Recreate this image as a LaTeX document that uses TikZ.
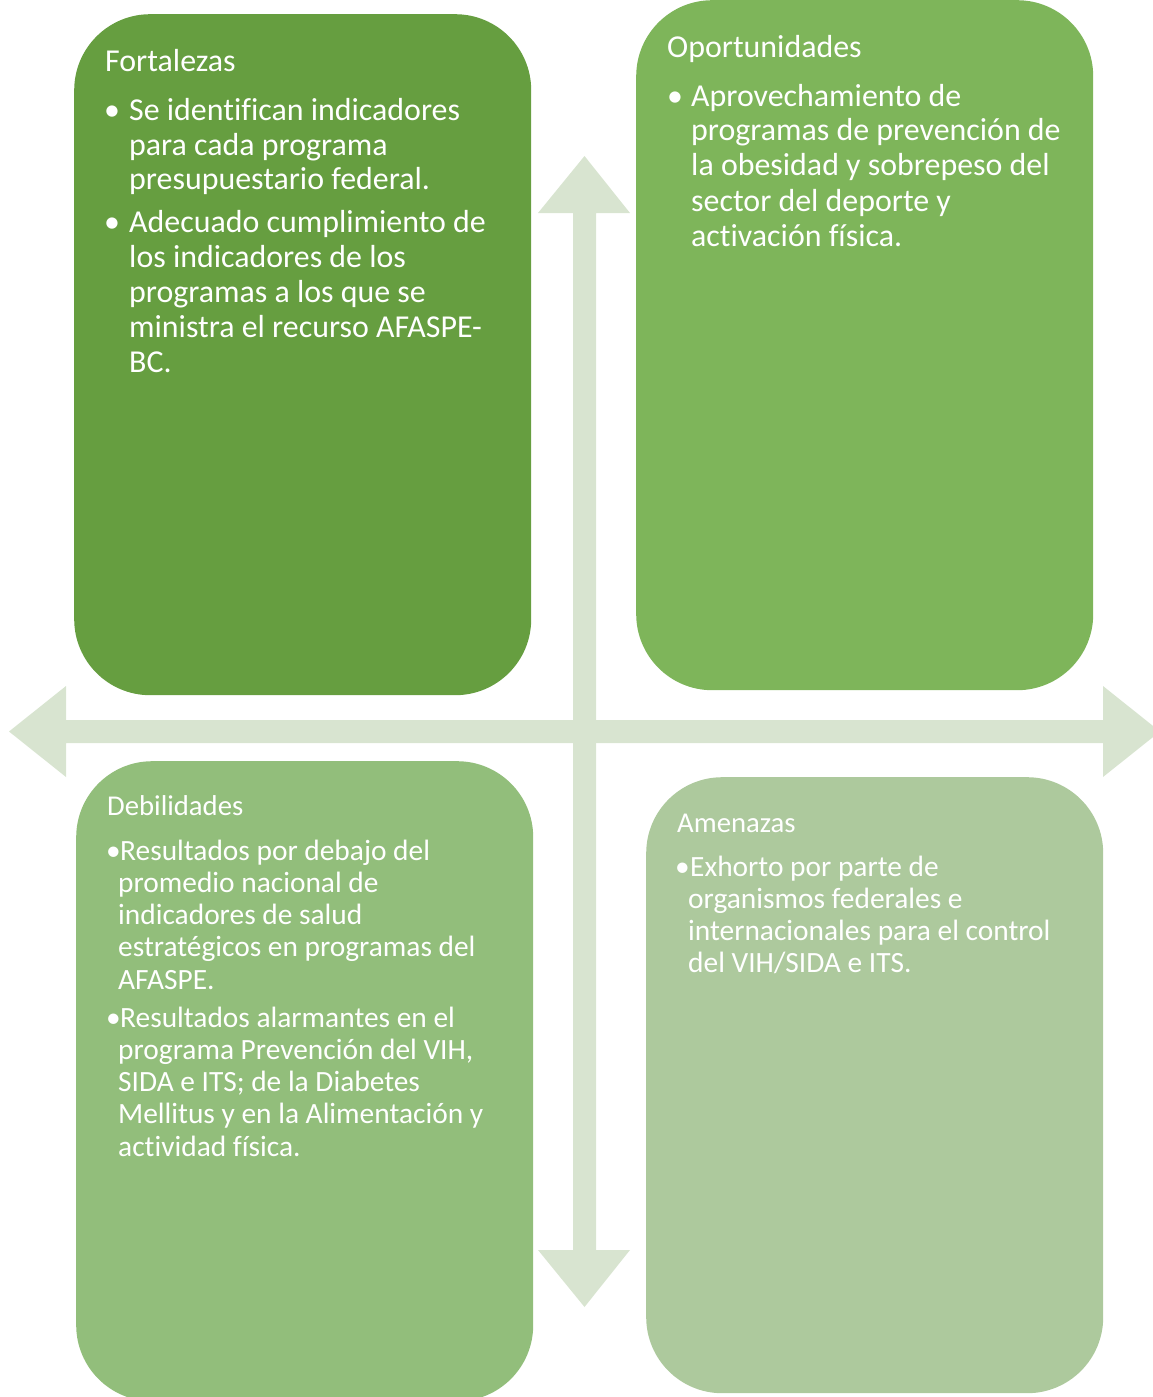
\documentclass[tikz,border=0pt]{standalone}
\usepackage{fontspec}
\setmainfont{Carlito}[Ligatures=NoCommon]

\definecolor{fortC}{HTML}{669E40}
\definecolor{oporC}{HTML}{7EB55A}
\definecolor{debiC}{HTML}{92BE7B}
\definecolor{ameC}{HTML}{ADC99D}
\definecolor{axisC}{HTML}{D8E4D0}

% stacked lines, first baseline = node baseline
\newcommand\bigrows[1]{\vtop{\fontsize{31.9}{35}\selectfont #1}}
\newcommand\smallrows[1]{\vtop{\fontsize{29.4}{32.3}\selectfont #1}}
\newcommand\rowline[1]{\hbox{#1}}
\newcommand\bigfont{\fontsize{31.9}{35}\selectfont}
\newcommand\titlefont{\fontsize{28.7}{32.3}\selectfont}
\newcommand\smallfont{\fontsize{29.4}{32.3}\selectfont}

\tikzset{
  quad/.style={rounded corners=76pt, inner sep=0pt, draw=none, anchor=north west},
  txt/.style={text=white, inner sep=0pt, anchor=base west},
}

\begin{document}
\begin{tikzpicture}[x=1pt,y=-1pt]
\useasboundingbox (0,0) rectangle (1153,1397);
\clip (0,0) rectangle (1153,1397);

% cross of double arrows
\fill[axisC] (9,731.5) -- (66,686) -- (66,720) -- (1103,720) -- (1103,686)
  -- (1160,731.5) -- (1103,777) -- (1103,743) -- (66,743) -- (66,777) -- cycle;
\fill[axisC] (584.5,156) -- (630,213) -- (596,213) -- (596,1250) -- (630,1250)
  -- (584.5,1307) -- (538,1250) -- (573,1250) -- (573,213) -- (538,213) -- cycle;

% quadrants
\node[quad, fill=fortC, minimum width=457pt, minimum height=681pt] (fort) at (74,14) {};
\node[quad, fill=oporC, minimum width=457pt, minimum height=690pt] (opor) at (636,0) {};
\node[quad, fill=debiC, minimum width=457pt, minimum height=640pt] (debi) at (76,761) {};
\node[quad, fill=ameC, minimum width=457pt, minimum height=616pt] (ame) at (646,777) {};

% Fortalezas
\node[txt, font=\bigfont] (fortT) at (105,71) {Fortalezas};
\node[txt, font=\bigfont] (fortB1) at (104,120) {•};
\node[txt] (fortI1) at (129,120) {\bigrows{\rowline{Se identifican indicadores}\rowline{para cada programa}\rowline{presupuestario federal.}}};
\node[txt, font=\bigfont] (fortB2) at (104,232) {•};
\node[txt] (fortI2) at (129,232) {\bigrows{\rowline{Adecuado cumplimiento de}\rowline{los indicadores de los}\rowline{programas a los que se}\rowline{ministra el recurso AFASPE-}\rowline{BC.}}};

% Oportunidades
\node[txt, font=\bigfont] (oporT) at (667,58) {Oportunidades};
\node[txt, font=\bigfont] (oporB1) at (667,106) {•};
\node[txt] (oporI1) at (691,106) {\bigrows{\rowline{Aprovechamiento de}\rowline{programas de prevención de}\rowline{la obesidad y sobrepeso del}\rowline{sector del deporte y}\rowline{activación física.}}};

% Debilidades
\node[txt, font=\titlefont] (debiT) at (107,815) {Debilidades};
\node[txt, font=\smallfont] (debiB1) at (106,860) {•};
\node[txt] (debiI1) at (118,860) {\smallrows{\rowline{\kern2pt Resultados por debajo del}\rowline{promedio nacional de}\rowline{indicadores de salud}\rowline{estratégicos en programas del}\rowline{AFASPE.}}};
\node[txt, font=\smallfont] (debiB2) at (106,1027) {•};
\node[txt] (debiI2) at (118,1027) {\smallrows{\rowline{\kern2pt Resultados alarmantes en el}\rowline{programa Prevención del VIH,}\rowline{SIDA e ITS; de la Diabetes}\rowline{Mellitus y en la Alimentación y}\rowline{actividad física.}}};

% Amenazas
\node[txt, font=\titlefont] (ameT) at (677,832) {Amenazas};
\node[txt, font=\smallfont] (ameB1) at (675,876) {•};
\node[txt] (ameI1) at (688,876) {\smallrows{\rowline{\kern2pt Exhorto por parte de}\rowline{organismos federales e}\rowline{internacionales para el control}\rowline{del VIH/SIDA e ITS.}}};
\end{tikzpicture}
\end{document}
